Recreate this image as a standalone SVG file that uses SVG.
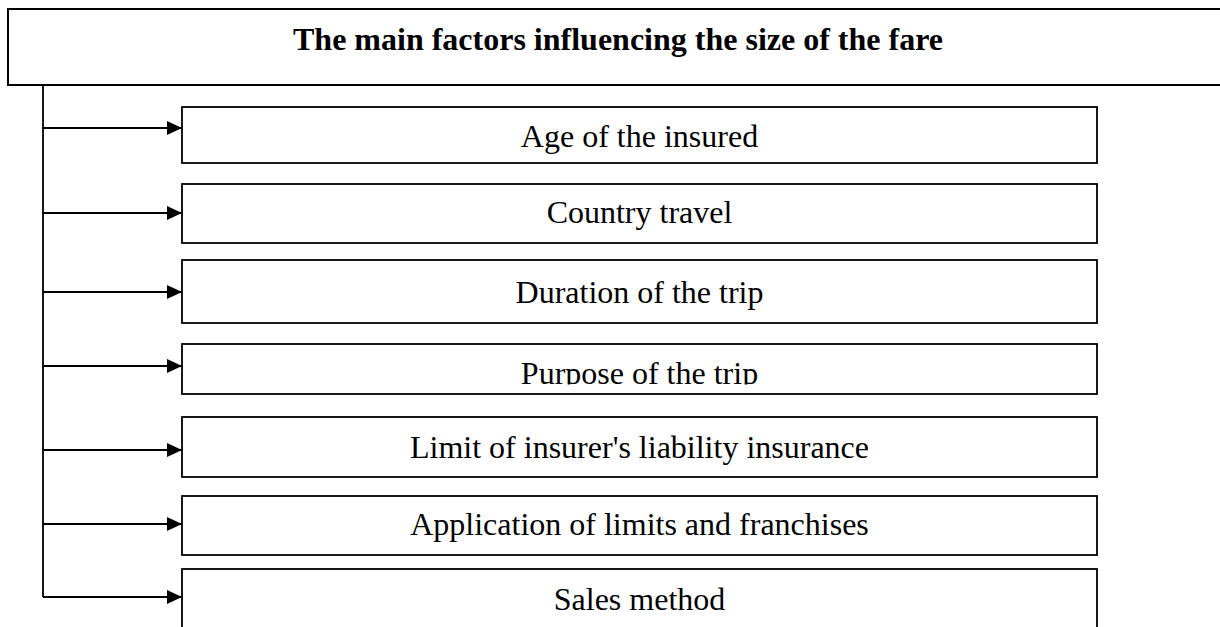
<svg xmlns="http://www.w3.org/2000/svg" width="1220" height="627" viewBox="0 0 1220 627">
<style>
.box{fill:#fff;stroke:#000;stroke-width:1.8}
.lbl{font-family:"Liberation Serif","Times New Roman",serif;font-size:32px;fill:#000;text-anchor:middle}
.title{font-weight:bold}
.con{fill:none;stroke:#000;stroke-width:1.8}
</style>
<defs>
<marker id="ah" markerWidth="15" markerHeight="14" refX="15" refY="7" orient="auto" markerUnits="userSpaceOnUse">
<path d="M0,0 L15,7 L0,14 Z" fill="#000"/>
</marker>
<clipPath id="clip4"><rect x="182" y="344" width="915" height="40.5"/></clipPath>
</defs>
<rect width="1220" height="627" fill="#fff"/>
<g id="header">
<rect class="box" x="8" y="9" width="1230" height="76" style="stroke-width:2"/>
<text class="lbl title" x="618" y="50">The main factors influencing the size of the fare</text>
</g>
<g id="connectors">
<path class="con" d="M43,85 V597"/>
<path class="con" d="M43,128 H182" marker-end="url(#ah)"/>
<path class="con" d="M43,213 H182" marker-end="url(#ah)"/>
<path class="con" d="M43,292 H182" marker-end="url(#ah)"/>
<path class="con" d="M43,366 H182" marker-end="url(#ah)"/>
<path class="con" d="M43,450 H182" marker-end="url(#ah)"/>
<path class="con" d="M43,524 H182" marker-end="url(#ah)"/>
<path class="con" d="M43,597 H182" marker-end="url(#ah)"/>
</g>
<g id="n1"><rect class="box" x="182" y="107" width="915" height="56"/><text class="lbl" x="639.5" y="147">Age of the insured</text></g>
<g id="n2"><rect class="box" x="182" y="184" width="915" height="59"/><text class="lbl" x="639.5" y="223">Country travel</text></g>
<g id="n3"><rect class="box" x="182" y="260" width="915" height="63"/><text class="lbl" x="639.5" y="303">Duration of the trip</text></g>
<g id="n4"><rect class="box" x="182" y="344" width="915" height="50"/><text class="lbl" x="639.5" y="384" clip-path="url(#clip4)">Purpose of the trip</text></g>
<g id="n5"><rect class="box" x="182" y="417" width="915" height="60"/><text class="lbl" x="639.5" y="458">Limit of insurer's liability insurance</text></g>
<g id="n6"><rect class="box" x="182" y="496" width="915" height="59"/><text class="lbl" x="639.5" y="535">Application of limits and franchises</text></g>
<g id="n7"><rect class="box" x="182" y="569" width="915" height="70"/><text class="lbl" x="639.5" y="610">Sales method</text></g>
</svg>
